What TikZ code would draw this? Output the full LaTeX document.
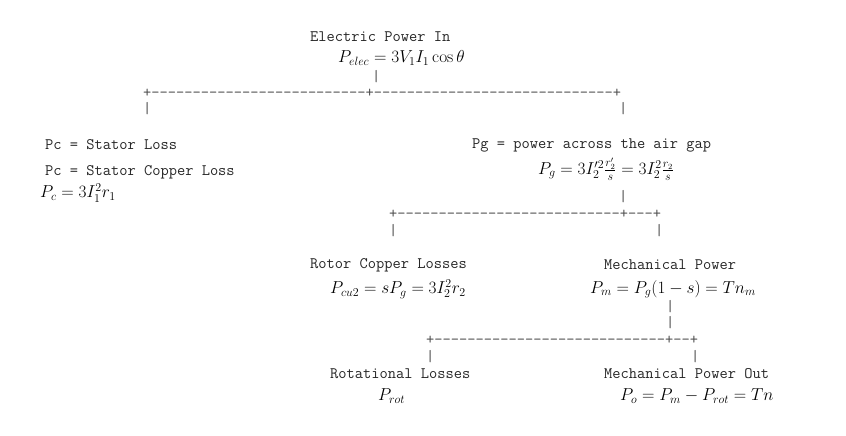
\documentclass[tikz,border=0pt]{standalone}
\begin{document}
\begin{tikzpicture}[x=1pt,y=-1pt,
  t/.style={anchor=west,inner sep=0pt,font=\ttfamily\fontsize{16}{16}\selectfont,text=black!85},
  m/.style={anchor=west,inner sep=0pt,font=\fontsize{17}{20}\selectfont},
  a/.style={anchor=west,inner sep=0pt,font=\ttfamily\fontsize{16}{16}\selectfont,text=black!70}]
\useasboundingbox[fill=white] (0,0) rectangle (846,436);
\node[t] (ein) at (310,37) {Electric Power In};
\node[m] (pel) at (338,58) {$P_{elec}=3V_1I_1\cos\theta$};
\node[a] (v1) at (372,77) {|};
\node[a] (h1) at (143,93) {+--------------------------+-----------------------------+};
\node[a] (v2) at (143,109) {|};
\node[a] (v3) at (619,109) {|};
\node[t] (pc1) at (45,145) {Pc = Stator Loss};
\node[t] (pc2) at (45,172) {Pc = Stator Copper Loss};
\node[m] (pcf) at (40,193) {$P_c=3I_1^2r_1$};
\node[t] (pg) at (472,145) {Pg = power across the air gap};
\node[m] (pgf) at (538,169) {$P_g=3I_2'^2\frac{r_2'}{s}=3I_2^2\frac{r_2}{s}$};
\node[a] (v4) at (619,197) {|};
\node[a] (h2) at (389,214) {+---------------------------+---+};
\node[a] (v5) at (389,231) {|};
\node[a] (v6) at (655,231) {|};
\node[t] (rcl) at (310,265) {Rotor Copper Losses};
\node[m] (pcu) at (330,289) {$P_{cu2}=sP_g=3I_2^2r_2$};
\node[t] (mp) at (604,265) {Mechanical Power};
\node[m] (pm) at (590,289) {$P_m=P_g(1-s)=Tn_m$};
\node[a] (v7) at (666,307) {|};
\node[a] (v8) at (666,323) {|};
\node[a] (h3) at (426,340) {+----------------------------+--+};
\node[a] (v9) at (426,357) {|};
\node[a] (v10) at (691,357) {|};
\node[t] (rl) at (330,374) {Rotational Losses};
\node[m] (pr) at (378,396) {$P_{rot}$};
\node[t] (mpo) at (604,374) {Mechanical Power Out};
\node[m] (po) at (620,396) {$P_o=P_m-P_{rot}=Tn$};
\end{tikzpicture}
\end{document}
